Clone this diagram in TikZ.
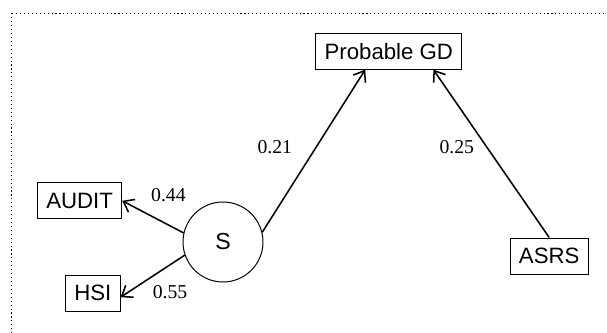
\documentclass[tikz,border=0pt]{standalone}
\usepackage{fontspec}
\setmainfont{Liberation Serif}
\setsansfont{Liberation Sans}
\usepackage{tikz}
\usetikzlibrary{arrows.meta,positioning,calc}
\tikzset{
  Vbox/.style={draw, line width=0.7pt, font=\sffamily\fontsize{15.8}{18}\selectfont,
               minimum height=0.9cm, inner xsep=0.22cm, inner ysep=2pt},
  Lvar/.style={draw, circle, line width=0.7pt, font=\sffamily\fontsize{16.5}{18}\selectfont,
               minimum size=2.0cm, inner sep=0pt},
  Wlab/.style={font=\fontsize{14}{16}\selectfont, inner sep=1pt},
  Parr/.style={-{Straight Barb[length=2.4mm,width=3.6mm]}, line width=1.1pt}
}
\begin{document}
\begin{tikzpicture}
  \useasboundingbox (0,0) rectangle (15.175,-8.325);
  \clip (0,0) rectangle (15.175,-8.325);
  \draw[dotted, line width=0.8pt] (0.29,-0.333) rectangle (16,-9);

  \node[Vbox] (gd) at (9.72,-1.28) {Probable GD};
  \node[Vbox] (audit) at (1.99,-5.02) {AUDIT};
  \node[Vbox] (hsi) at (2.32,-7.33) {HSI};
  \node[Vbox] (asrs) at (13.73,-6.40) {ASRS};
  \node[Lvar] (s) at (5.575,-6.05) {S};

  \node[Wlab] (w44) at (4.21,-4.875) {0.44};
  \node[Wlab] (w55) at (4.25,-7.29) {0.55};
  \node[Wlab] (w21) at (6.87,-3.67) {0.21};
  \node[Wlab] (w25) at (11.42,-3.67) {0.25};

  \draw[Parr] (s.167) -- (audit.east);
  \draw[Parr] (s.199) -- ([yshift=-0.1cm]hsi.east);
  \draw[Parr] (s.14) -- ([xshift=-0.59cm]gd.south);
  \draw[Parr] (asrs.north) -- ([xshift=1.115cm]gd.south);
\end{tikzpicture}
\end{document}
